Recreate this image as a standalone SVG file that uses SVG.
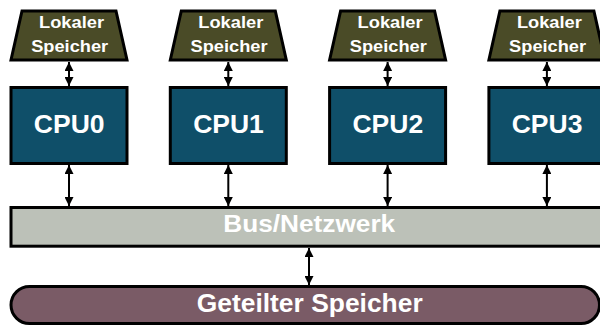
<svg xmlns="http://www.w3.org/2000/svg" width="600" height="326" viewBox="0 0 600 326">
  <style>
    .mem { fill: #4a4b27; stroke: #000; stroke-width: 3; stroke-linejoin: miter; }
    .cpu { fill: #0f4f69; stroke: #000; stroke-width: 3; }
    .bus { fill: #bcc1b8; stroke: #000; stroke-width: 3; }
    .shared { fill: #7a5b66; stroke: #000; stroke-width: 3; }
    text { font-family: "Liberation Sans", Arial, sans-serif; font-weight: bold; fill: #fff; text-anchor: middle; }
    .t-mem { font-size: 17px; }
    .t-cpu { font-size: 26.5px; }
    .t-big { font-size: 25px; }
    .link { stroke: #000; stroke-width: 2; fill: none; marker-start: url(#head); marker-end: url(#head); }
  </style>
  <defs>
    <marker id="head" viewBox="0 0 10 10" refX="10" refY="5" markerWidth="4.5" markerHeight="4.5" orient="auto-start-reverse" markerUnits="strokeWidth">
      <path d="M0,0 L10,5 L0,10 Z" fill="#000"/>
    </marker>
  </defs>

  <!-- local memories -->
  <g id="mem0">
    <polygon class="mem" points="22,11 116,11 127,60 11,60"/>
    <text class="t-mem" x="71.5" y="28.3" textLength="65" lengthAdjust="spacingAndGlyphs">Lokaler</text>
    <text class="t-mem" x="69.7" y="51.7" textLength="77" lengthAdjust="spacingAndGlyphs">Speicher</text>
  </g>
  <g id="mem1">
    <polygon class="mem" points="181.3,11 275.3,11 286.3,60 170.3,60"/>
    <text class="t-mem" x="230.8" y="28.3" textLength="65" lengthAdjust="spacingAndGlyphs">Lokaler</text>
    <text class="t-mem" x="229" y="51.7" textLength="77" lengthAdjust="spacingAndGlyphs">Speicher</text>
  </g>
  <g id="mem2">
    <polygon class="mem" points="340.6,11 434.6,11 445.6,60 329.6,60"/>
    <text class="t-mem" x="390.1" y="28.3" textLength="65" lengthAdjust="spacingAndGlyphs">Lokaler</text>
    <text class="t-mem" x="388.3" y="51.7" textLength="77" lengthAdjust="spacingAndGlyphs">Speicher</text>
  </g>
  <g id="mem3">
    <polygon class="mem" points="499.9,11 593.9,11 604.9,60 488.9,60"/>
    <text class="t-mem" x="549.4" y="28.3" textLength="65" lengthAdjust="spacingAndGlyphs">Lokaler</text>
    <text class="t-mem" x="547.6" y="51.7" textLength="77" lengthAdjust="spacingAndGlyphs">Speicher</text>
  </g>

  <!-- processors -->
  <g id="cpu0">
    <rect class="cpu" x="11" y="87.5" width="116" height="76"/>
    <text class="t-cpu" x="69.2" y="133.3">CPU0</text>
  </g>
  <g id="cpu1">
    <rect class="cpu" x="170.3" y="87.5" width="116" height="76"/>
    <text class="t-cpu" x="228.5" y="133.3">CPU1</text>
  </g>
  <g id="cpu2">
    <rect class="cpu" x="329.6" y="87.5" width="116" height="76"/>
    <text class="t-cpu" x="387.8" y="133.3">CPU2</text>
  </g>
  <g id="cpu3">
    <rect class="cpu" x="488.9" y="87.5" width="116" height="76"/>
    <text class="t-cpu" x="547.1" y="133.3">CPU3</text>
  </g>

  <!-- interconnect -->
  <g id="bus">
    <rect class="bus" x="11" y="207.5" width="594" height="38.7"/>
    <text class="t-big" x="309.2" y="232.3" font-size="23" textLength="172" lengthAdjust="spacingAndGlyphs" style="font-size:23px">Bus/Netzwerk</text>
  </g>

  <!-- shared memory -->
  <g id="shared">
    <rect class="shared" x="11" y="286.5" width="588.5" height="37" rx="18.5" ry="18.5"/>
    <text class="t-big" x="309.7" y="311.7" textLength="226" lengthAdjust="spacingAndGlyphs">Geteilter Speicher</text>
  </g>

  <!-- connectors -->
  <g id="connectors">
    <line class="link" x1="69" y1="62" x2="69" y2="86"/>
    <line class="link" x1="228.3" y1="62" x2="228.3" y2="86"/>
    <line class="link" x1="387.6" y1="62" x2="387.6" y2="86"/>
    <line class="link" x1="546.9" y1="62" x2="546.9" y2="86"/>
    <line class="link" x1="69" y1="165" x2="69" y2="206"/>
    <line class="link" x1="228.3" y1="165" x2="228.3" y2="206"/>
    <line class="link" x1="387.6" y1="165" x2="387.6" y2="206"/>
    <line class="link" x1="546.9" y1="165" x2="546.9" y2="206"/>
    <line class="link" x1="309" y1="248" x2="309" y2="285"/>
  </g>
</svg>
